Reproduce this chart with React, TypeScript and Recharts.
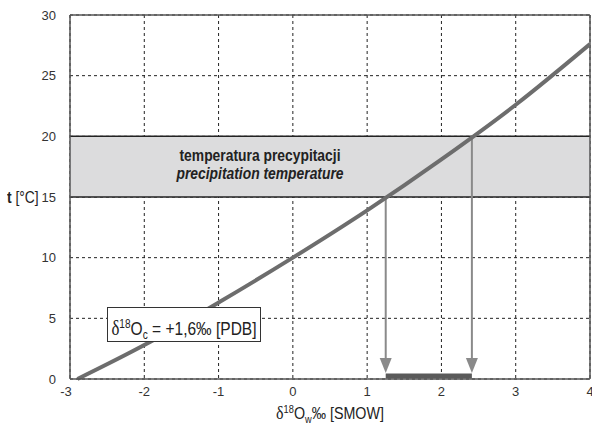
import React from 'react'
import {
  ComposedChart,
  Line,
  Scatter,
  XAxis,
  YAxis,
  CartesianGrid,
  ReferenceArea,
  ReferenceLine,
} from 'recharts'

// curve: delta18O water vs temperature
const waterDelta = [-2.9, -2, -1, 0, 1, 2, 3, 4]
const temperature = [0, 2.8, 6.3, 10, 13.9, 18.1, 22.6, 27.6]

const xTicks = [-3, -2, -1, 0, 1, 2, 3, 4]
const yTicks = [0, 5, 10, 15, 20, 25, 30]

const bandLow = 15
const bandHigh = 20
const crossLow = 1.25
const crossHigh = 2.41

const curveData = waterDelta.map((x, i) => ({ x, t: temperature[i] }))
const arrowTips = [
  { x: crossLow, t: 0.5 },
  { x: crossHigh, t: 0.5 },
]

const font = '"Liberation Sans", Arial, sans-serif'
const serif = '"Liberation Serif", serif'

const ArrowHead = (props: any) => {
  const { cx, cy } = props
  if (cx == null || cy == null) return null
  return <path d={`M${cx - 6},${cy - 15} L${cx + 6},${cy - 15} L${cx},${cy} Z`} fill="#8a8a8a" />
}

const XTick = (props: any) => {
  const { x, y, payload } = props
  const first = payload.value === -3
  return (
    <text x={first ? x - 4 : x} y={y + 9} textAnchor="middle" fill="#333" fontSize={13} fontFamily={font}>
      {payload.value}
    </text>
  )
}

const narrow = (origin: string): React.CSSProperties => ({
  transform: 'scaleX(0.84)',
  transformOrigin: origin,
})

export default function App() {
  return (
    <div style={{ position: 'relative', width: 592, height: 427, fontFamily: font, overflow: 'hidden' }}>
      <style>{`body{margin:0}`}</style>
      <ComposedChart
        width={592}
        height={427}
        data={curveData}
        margin={{ top: 15, right: 2, left: 0, bottom: 0 }}
      >
        <ReferenceArea y1={bandLow} y2={bandHigh} x1={-3} x2={4} fill="#dcdcdd" fillOpacity={1} stroke="none" />
        <CartesianGrid stroke="#222" strokeDasharray="3 3" strokeWidth={1} />
        <ReferenceLine y={bandLow} stroke="#222" strokeWidth={1.5} />
        <ReferenceLine y={bandHigh} stroke="#222" strokeWidth={1.5} />
        <ReferenceLine y={30} stroke="#555" strokeWidth={1.5} />
        <ReferenceLine x={4} stroke="#555" strokeWidth={1.5} />
        <XAxis
          type="number"
          dataKey="x"
          domain={[-3, 4]}
          ticks={xTicks}
          interval={0}
          allowDataOverflow
          height={48}
          tickLine={false}
          axisLine={{ stroke: '#555', strokeWidth: 1.5 }}
          tick={<XTick />}
        />
        <YAxis
          type="number"
          domain={[0, 30]}
          ticks={yTicks}
          interval={0}
          width={70}
          tickLine={false}
          axisLine={{ stroke: '#555', strokeWidth: 1.5 }}
          tick={{ fill: '#333', fontSize: 13, fontFamily: font }}
          tickMargin={8}
        />
        <ReferenceLine
          segment={[{ x: crossLow, y: bandLow }, { x: crossLow, y: 1.5 }]}
          stroke="#8a8a8a"
          strokeWidth={2}
        />
        <ReferenceLine
          segment={[{ x: crossHigh, y: bandHigh }, { x: crossHigh, y: 1.5 }]}
          stroke="#8a8a8a"
          strokeWidth={2}
        />
        <ReferenceArea x1={crossLow} x2={crossHigh} y1={0.05} y2={0.45} fill="#5a5a5a" fillOpacity={1} stroke="none" />
        <Line
          type="monotone"
          dataKey="t"
          stroke="#6d6d6d"
          strokeWidth={4}
          dot={false}
          isAnimationActive={false}
        />
        <Scatter data={arrowTips} dataKey="t" shape={ArrowHead} isAnimationActive={false} />
      </ComposedChart>

      <div
        style={{
          position: 'absolute',
          left: 150,
          top: 146,
          width: 220,
          textAlign: 'center',
          fontSize: 16.5,
          fontWeight: 'bold',
          color: '#222',
          lineHeight: '18px',
          ...narrow('center'),
        }}
      >
        <div>temperatura precypitacji</div>
        <div style={{ fontStyle: 'italic' }}>precipitation temperature</div>
      </div>

      <div
        style={{
          position: 'absolute',
          left: 107,
          top: 307,
          width: 154,
          height: 35,
          background: '#fff',
          border: '1px solid #333',
          boxSizing: 'border-box',
        }}
      />
      <div
        style={{
          position: 'absolute',
          left: 84,
          top: 307,
          width: 200,
          height: 35,
          fontSize: 18.5,
          color: '#222',
          lineHeight: '35px',
          textAlign: 'center',
          whiteSpace: 'nowrap',
          ...narrow('center'),
        }}
      >
        <span style={{ fontFamily: serif, fontSize: 20 }}>δ</span>
        <sup style={{ fontSize: 12, verticalAlign: 7 }}>18</sup>O
        <sub style={{ fontSize: 12, verticalAlign: -4 }}>c</sub> = +1,6‰ [PDB]
      </div>

      <div
        style={{
          position: 'absolute',
          left: 7,
          top: 188,
          fontSize: 16.5,
          color: '#222',
          whiteSpace: 'nowrap',
          ...narrow('left'),
        }}
      >
        <b>t</b> [°C]
      </div>

      <div
        style={{
          position: 'absolute',
          left: 230,
          top: 402,
          width: 200,
          textAlign: 'center',
          fontSize: 17,
          color: '#222',
          whiteSpace: 'nowrap',
          ...narrow('center'),
        }}
      >
        <span style={{ fontFamily: serif, fontSize: 19 }}>δ</span>
        <sup style={{ fontSize: 11, verticalAlign: 6 }}>18</sup>O
        <sub style={{ fontSize: 11, verticalAlign: -4 }}>w</sub>‰ [SMOW]
      </div>
    </div>
  )
}
